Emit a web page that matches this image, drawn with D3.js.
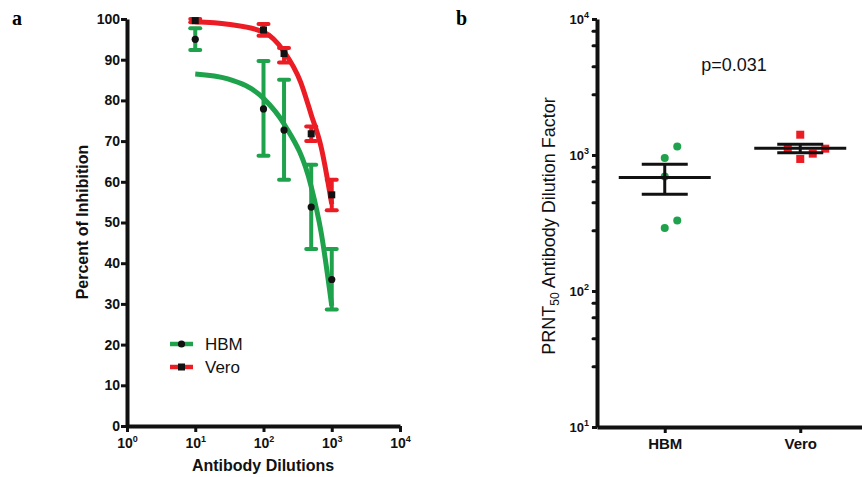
<!DOCTYPE html>
<html>
<head>
<meta charset="utf-8">
<script src="https://cdn.jsdelivr.net/npm/d3@7/dist/d3.min.js"></script>
<style>
  body { margin: 0; background: #fff; }
  svg { display: block; font-family: "Liberation Sans", Arial, sans-serif; }
</style>
</head>
<body>
<div id="chart"></div>
<script>
// ---- panel a: inhibition vs dilution (mean, err low, err high) ----
var dilutions = [10, 100, 200, 500, 1000];
var hbmMean = [95.0, 77.9, 72.7, 53.8, 36.0];
var hbmLow  = [92.4, 66.4, 60.5, 43.5, 28.6];
var hbmHigh = [97.7, 89.7, 85.1, 64.2, 43.5];
var veroMean = [99.6, 97.3, 91.5, 71.8, 56.8];
var veroLow  = [99.2, 95.9, 89.3, 70.0, 53.0];
var veroHigh = [100.0, 98.8, 92.9, 73.6, 60.5];

// fitted curves
var hbmFit  = [[10, 86.5], [30, 85.3], [100, 80.5], [200, 74.2], [500, 58.8], [700, 47.5], [1000, 29.5]];
var veroFit = [[10, 99.3], [30, 98.7], [100, 96.8], [200, 92.0], [350, 84.5], [500, 76.5], [700, 68.5], [1000, 54.5]];

var yTicksA = d3.range(0, 101, 10);
var xExpA = [0, 1, 2, 3, 4];

// ---- panel b: PRNT50 per cell line ----
var groups = ["HBM", "Vero"];
var hbmPrnt  = [1156, 950, 696, 330, 291];
var veroPrnt = [1410, 935, 1023, 1113, 1113];
var yExpB = [1, 2, 3, 4];
var minorB = [2.8, 4.5, 6.4, 8.2];
var pLabel = "p=0.031";

var green = "#1fa24c", red = "#ec1c24";

var svg = d3.select("#chart").append("svg")
    .attr("width", 862).attr("height", 477);

// ===================== panel a =====================
var xA = d3.scaleLog().domain([1, 1e4]).range([127, 400]);
var yA = d3.scaleLinear().domain([0, 100]).range([426, 19]);

var gA = svg.append("g");

var line = d3.line()
    .x(function(d){ return xA(d[0]); })
    .y(function(d){ return yA(d[1]); })
    .curve(d3.curveMonotoneX);

gA.append("path").datum(hbmFit).attr("d", line)
    .attr("fill", "none").attr("stroke", green).attr("stroke-width", 5);
gA.append("path").datum(veroFit).attr("d", line)
    .attr("fill", "none").attr("stroke", red).attr("stroke-width", 5);

function errBars(lo, hi, color) {
  var rows = dilutions.map(function(x, i){ return {x: x, lo: lo[i], hi: hi[i]}; });
  var g = gA.append("g").attr("stroke", color).attr("stroke-width", 4);
  g.selectAll(".v").data(rows).enter().append("line")
    .attr("x1", function(d){ return xA(d.x); }).attr("x2", function(d){ return xA(d.x); })
    .attr("y1", function(d){ return yA(d.lo); }).attr("y2", function(d){ return yA(d.hi); });
  [ "lo", "hi" ].forEach(function(k){
    g.selectAll(".c" + k).data(rows).enter().append("line")
      .attr("stroke-linecap", "round")
      .attr("x1", function(d){ return xA(d.x) - 5; }).attr("x2", function(d){ return xA(d.x) + 5; })
      .attr("y1", function(d){ return yA(d[k]); }).attr("y2", function(d){ return yA(d[k]); });
  });
}
errBars(hbmLow, hbmHigh, green);
errBars(veroLow, veroHigh, red);

gA.selectAll(".hdot").data(hbmMean).enter().append("circle")
    .attr("cx", function(d, i){ return xA(dilutions[i]); })
    .attr("cy", function(d){ return yA(d); })
    .attr("r", 3.6).attr("fill", "#111");
gA.selectAll(".vsq").data(veroMean).enter().append("rect")
    .attr("x", function(d, i){ return xA(dilutions[i]) - 3.5; })
    .attr("y", function(d){ return yA(d) - 3.5; })
    .attr("width", 7).attr("height", 7).attr("fill", "#111");

// axes
var axisLeftA = gA.append("g").attr("transform", "translate(127,0)")
    .call(d3.axisLeft(yA).tickValues(yTicksA).tickSize(6).tickSizeOuter(0));
var axisBottomA = gA.append("g").attr("transform", "translate(0,426)")
    .call(d3.axisBottom(xA).tickValues(xExpA.map(function(e){ return Math.pow(10, e); }))
      .tickSize(6).tickSizeOuter(0).tickFormat(""));

[axisLeftA, axisBottomA].forEach(function(ax){
  ax.select(".domain").attr("stroke", "#111").attr("stroke-width", 4);
  ax.selectAll(".tick line").attr("stroke", "#111").attr("stroke-width", 3);
});
axisLeftA.selectAll(".tick text")
    .attr("x", -7).attr("fill", "#111")
    .style("font-size", "14px").style("font-weight", "bold");

axisBottomA.selectAll(".tick").each(function(d, i){
  var t = d3.select(this).append("text").attr("y", 22).attr("fill", "#111")
      .attr("text-anchor", "middle")
      .style("font-size", "14px").style("font-weight", "bold");
  t.append("tspan").text("10");
  t.append("tspan").attr("dy", -6).style("font-size", "9px").text(xExpA[i]);
});

svg.append("text").attr("x", 263).attr("y", 471).attr("text-anchor", "middle")
    .style("font-size", "16px").style("font-weight", "bold").attr("fill", "#111")
    .text("Antibody Dilutions");
svg.append("text").attr("transform", "translate(88,222) rotate(-90)")
    .attr("text-anchor", "middle")
    .style("font-size", "16px").style("font-weight", "bold").attr("fill", "#111")
    .text("Percent of Inhibition");

// legend
var legend = [{name: "HBM", color: green, shape: "circle"}, {name: "Vero", color: red, shape: "square"}];
var lg = svg.selectAll(".lg").data(legend).enter().append("g")
    .attr("transform", function(d, i){ return "translate(170," + (344 + i * 23) + ")"; });
lg.append("line").attr("x1", 0).attr("x2", 23)
    .attr("stroke", function(d){ return d.color; }).attr("stroke-width", 4.5);
lg.each(function(d){
  var g = d3.select(this);
  if (d.shape === "circle") g.append("circle").attr("cx", 11.5).attr("r", 3.6).attr("fill", "#111");
  else g.append("rect").attr("x", 8).attr("y", -3.5).attr("width", 7).attr("height", 7).attr("fill", "#111");
});
lg.append("text").attr("x", 35).attr("y", 6).style("font-size", "17px").attr("fill", "#111")
    .text(function(d){ return d.name; });

// ===================== panel b =====================
var xB = d3.scalePoint().domain(groups).range([597, 868]).padding(0.5);
var yB = d3.scaleLog().domain([10, 1e4]).range([427, 19]);
var gB = svg.append("g");

// simple swarm placement of points
function swarm(values, cx) {
  var placed = [];
  var sorted = values.slice().sort(d3.ascending);
  var offs = [0, 12.5, -12.5, 25, -25];
  sorted.forEach(function(v){
    var y = yB(v);
    for (var k = 0; k < offs.length; k++) {
      var x = cx + offs[k];
      var ok = placed.every(function(p){ return Math.hypot(p.x - x, p.y - y) >= 13; });
      if (ok) { placed.push({x: x, y: y, v: v}); break; }
    }
  });
  return placed;
}

var sets = [{name: "HBM", vals: hbmPrnt, color: green}, {name: "Vero", vals: veroPrnt, color: red}];

sets.forEach(function(s){
  var pts = swarm(s.vals, xB(s.name));
  if (s.name === "HBM") {
    gB.selectAll(".hp").data(pts).enter().append("circle")
      .attr("cx", function(d){ return d.x; }).attr("cy", function(d){ return d.y; })
      .attr("r", 4).attr("fill", s.color);
  } else {
    gB.selectAll(".vp").data(pts).enter().append("rect")
      .attr("x", function(d){ return d.x - 4; }).attr("y", function(d){ return d.y - 4; })
      .attr("width", 8).attr("height", 8).attr("fill", s.color);
  }
});

sets.forEach(function(s){
  var m = d3.mean(s.vals);
  var se = d3.deviation(s.vals) / Math.sqrt(s.vals.length);
  var cx = xB(s.name);
  var g = gB.append("g").attr("stroke", "#111").attr("stroke-width", 3);
  g.append("line").attr("x1", cx - 46).attr("x2", cx + 46).attr("y1", yB(m)).attr("y2", yB(m));
  g.append("line").attr("x1", cx).attr("x2", cx).attr("y1", yB(m - se)).attr("y2", yB(m + se));
  [m - se, m + se].forEach(function(v){
    g.append("line").attr("x1", cx - 23).attr("x2", cx + 23).attr("y1", yB(v)).attr("y2", yB(v));
  });
});

var majorB = yExpB.map(function(e){ return Math.pow(10, e); });
var minorVals = [];
yExpB.slice(0, 3).forEach(function(e){
  minorB.forEach(function(m){ minorVals.push(m * Math.pow(10, e)); });
});

var axisLeftB = gB.append("g").attr("transform", "translate(597,0)")
    .call(d3.axisLeft(yB).tickValues(majorB).tickSize(5).tickSizeOuter(0).tickFormat(""));
gB.append("g").attr("transform", "translate(597,0)")
    .call(d3.axisLeft(yB).tickValues(minorVals).tickSize(4).tickSizeOuter(0).tickFormat(""))
    .call(function(a){
      a.select(".domain").remove();
      a.selectAll(".tick line").attr("stroke", "#111").attr("stroke-width", 3).attr("stroke-linecap", "round");
    });
var axisBottomB = gB.append("g").attr("transform", "translate(0,427)")
    .call(d3.axisBottom(xB).tickSize(6).tickSizeOuter(0));

[axisLeftB, axisBottomB].forEach(function(ax){
  ax.select(".domain").attr("stroke", "#111").attr("stroke-width", 4);
  ax.selectAll(".tick line").attr("stroke", "#111").attr("stroke-width", 3);
});
axisBottomB.selectAll(".tick text").attr("y", 11).attr("fill", "#111")
    .style("font-size", "15px").style("font-weight", "bold");

axisLeftB.selectAll(".tick").each(function(d, i){
  var t = d3.select(this).append("text").attr("x", -8).attr("dy", "0.35em").attr("fill", "#111")
      .attr("text-anchor", "end")
      .style("font-size", "13px").style("font-weight", "bold");
  t.append("tspan").text("10");
  t.append("tspan").attr("dy", -6).style("font-size", "9px").text(yExpB[i]);
});

var tB = svg.append("text").attr("transform", "translate(555,226) rotate(-90)")
    .attr("text-anchor", "middle")
    .style("font-size", "18px").attr("fill", "#111");
tB.append("tspan").text("PRNT");
tB.append("tspan").attr("dy", 4).style("font-size", "12px").text("50");
tB.append("tspan").attr("dy", -4).text(" Antibody Dilution Factor");

svg.append("text").attr("x", 734).attr("y", 71).attr("text-anchor", "middle")
    .style("font-size", "18px").attr("fill", "#111").text(pLabel);

// panel letters
svg.append("text").attr("x", 12).attr("y", 25)
    .style("font-family", "'Liberation Serif', 'Times New Roman', serif")
    .style("font-size", "20px").style("font-weight", "bold").text("a");
svg.append("text").attr("x", 456).attr("y", 25)
    .style("font-family", "'Liberation Serif', 'Times New Roman', serif")
    .style("font-size", "20px").style("font-weight", "bold").text("b");
</script>
</body>
</html>
